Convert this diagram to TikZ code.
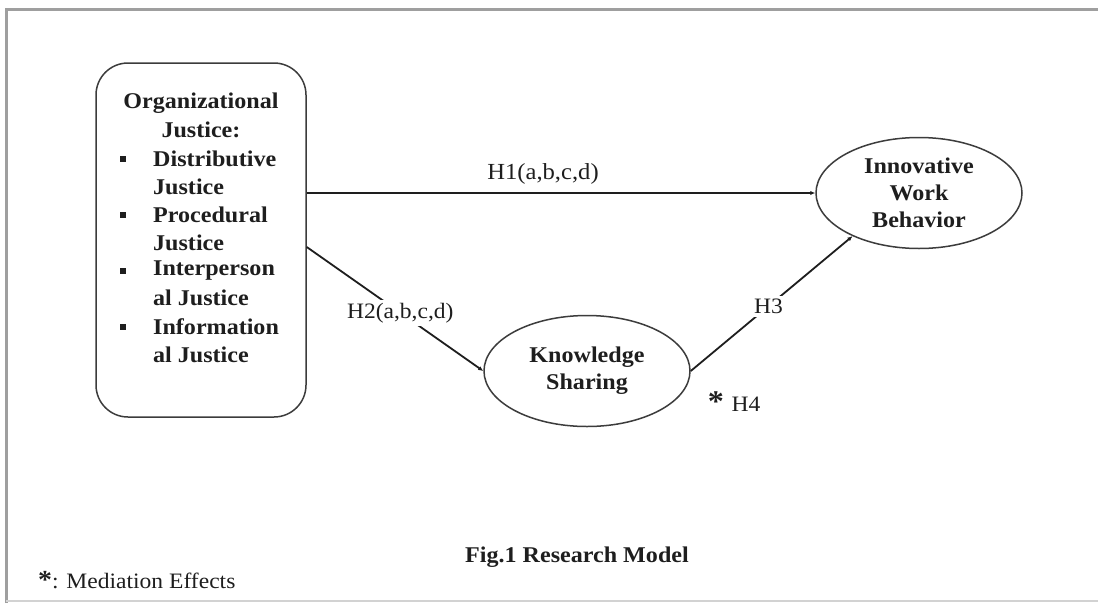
\documentclass[tikz,border=0pt]{standalone}
\usepackage{fontspec}
\setmainfont[FakeStretch=1.07]{Liberation Serif}
\usetikzlibrary{shapes.geometric,arrows.meta}
\definecolor{ink}{HTML}{1E1E1E}
\definecolor{edge}{HTML}{3C3C3C}
\begin{document}
\begin{tikzpicture}[x=1pt,y=-1pt,
  txt/.style={inner sep=0pt,text=ink,font=\fontsize{22}{27}\selectfont},
  btxt/.style={txt,font=\fontsize{22.5}{27}\selectfont\bfseries},
  bul/.style={rectangle,fill=ink,minimum size=6.5pt,inner sep=0pt},
  ell/.style={ellipse,draw=edge,line width=1.5pt,minimum width=206pt,minimum height=111pt,inner sep=0pt,align=center,text=ink,font=\fontsize{22.5}{27}\selectfont\bfseries},
  arr/.style={draw=ink,line width=1.8pt,-{Latex[length=5pt,width=4.5pt]}},
  lab/.style={txt,fill=white,inner sep=3pt}]
\useasboundingbox (0,0) rectangle (1098,603);
\fill[white] (0,0) rectangle (1098,603);
% frame
\draw[draw=gray!75,line width=3pt] (6,603) -- (6,9) -- (1098,9);
\draw[draw=gray!35,line width=1.5pt] (6,601) -- (1098,601);
% left box
\node[draw=edge,line width=1.5pt,rounded corners=32pt,minimum width=210pt,minimum height=354pt,inner sep=0pt] (oj) at (201,240) {};
\node[btxt] (t1) at (201,103) {Organizational};
\node[btxt] (t2) at (201,130) {Justice:};
\node[bul] (b1) at (123,159) {};
\node[bul] (b2) at (123,215) {};
\node[bul] (b3) at (123,271) {};
\node[bul] (b4) at (123,327) {};
\node[btxt,anchor=west] (d1) at (153,159) {Distributive};
\node[btxt,anchor=west] (d2) at (153,187) {Justice};
\node[btxt,anchor=west] (p1) at (153,215) {Procedural};
\node[btxt,anchor=west] (p2) at (153,243) {Justice};
\node[btxt,anchor=west] (i1) at (153,271) {Interperson};
\node[btxt,anchor=west] (i2) at (153,298) {al Justice};
\node[btxt,anchor=west] (f1) at (153,327) {Information};
\node[btxt,anchor=west] (f2) at (153,355) {al Justice};
% ellipses
\node[ell] (iwb) at (919,193) {Innovative\\Work\\Behavior};
\node[ell] (ks) at (587,371) {Knowledge\\Sharing};
% connectors
\draw[arr] (oj.east |- iwb.west) -- (iwb.west);
\draw[arr] ([yshift=-7pt]oj.east) -- node[lab,pos=0.53] (h2) {H2(a,b,c,d)} (ks.west);
\draw[arr] (ks.east) -- node[lab,pos=0.48] (h3) {H3} (iwb.213);
\node[txt,font=\fontsize{23}{27}\selectfont] (h1) at (543,174) {H1(a,b,c,d)};
\node[txt,font=\fontsize{30}{30}\selectfont\bfseries] (ast) at (716,402) {*};
\node[txt] (h4) at (746,404) {H4};
% captions
\node[btxt] (cap) at (577,557) {Fig.1 Research Model};
\node[txt,anchor=west] (med) at (38,580) {{\fontsize{26}{26}\selectfont\bfseries *}: Mediation Effects};
\end{tikzpicture}
\end{document}
